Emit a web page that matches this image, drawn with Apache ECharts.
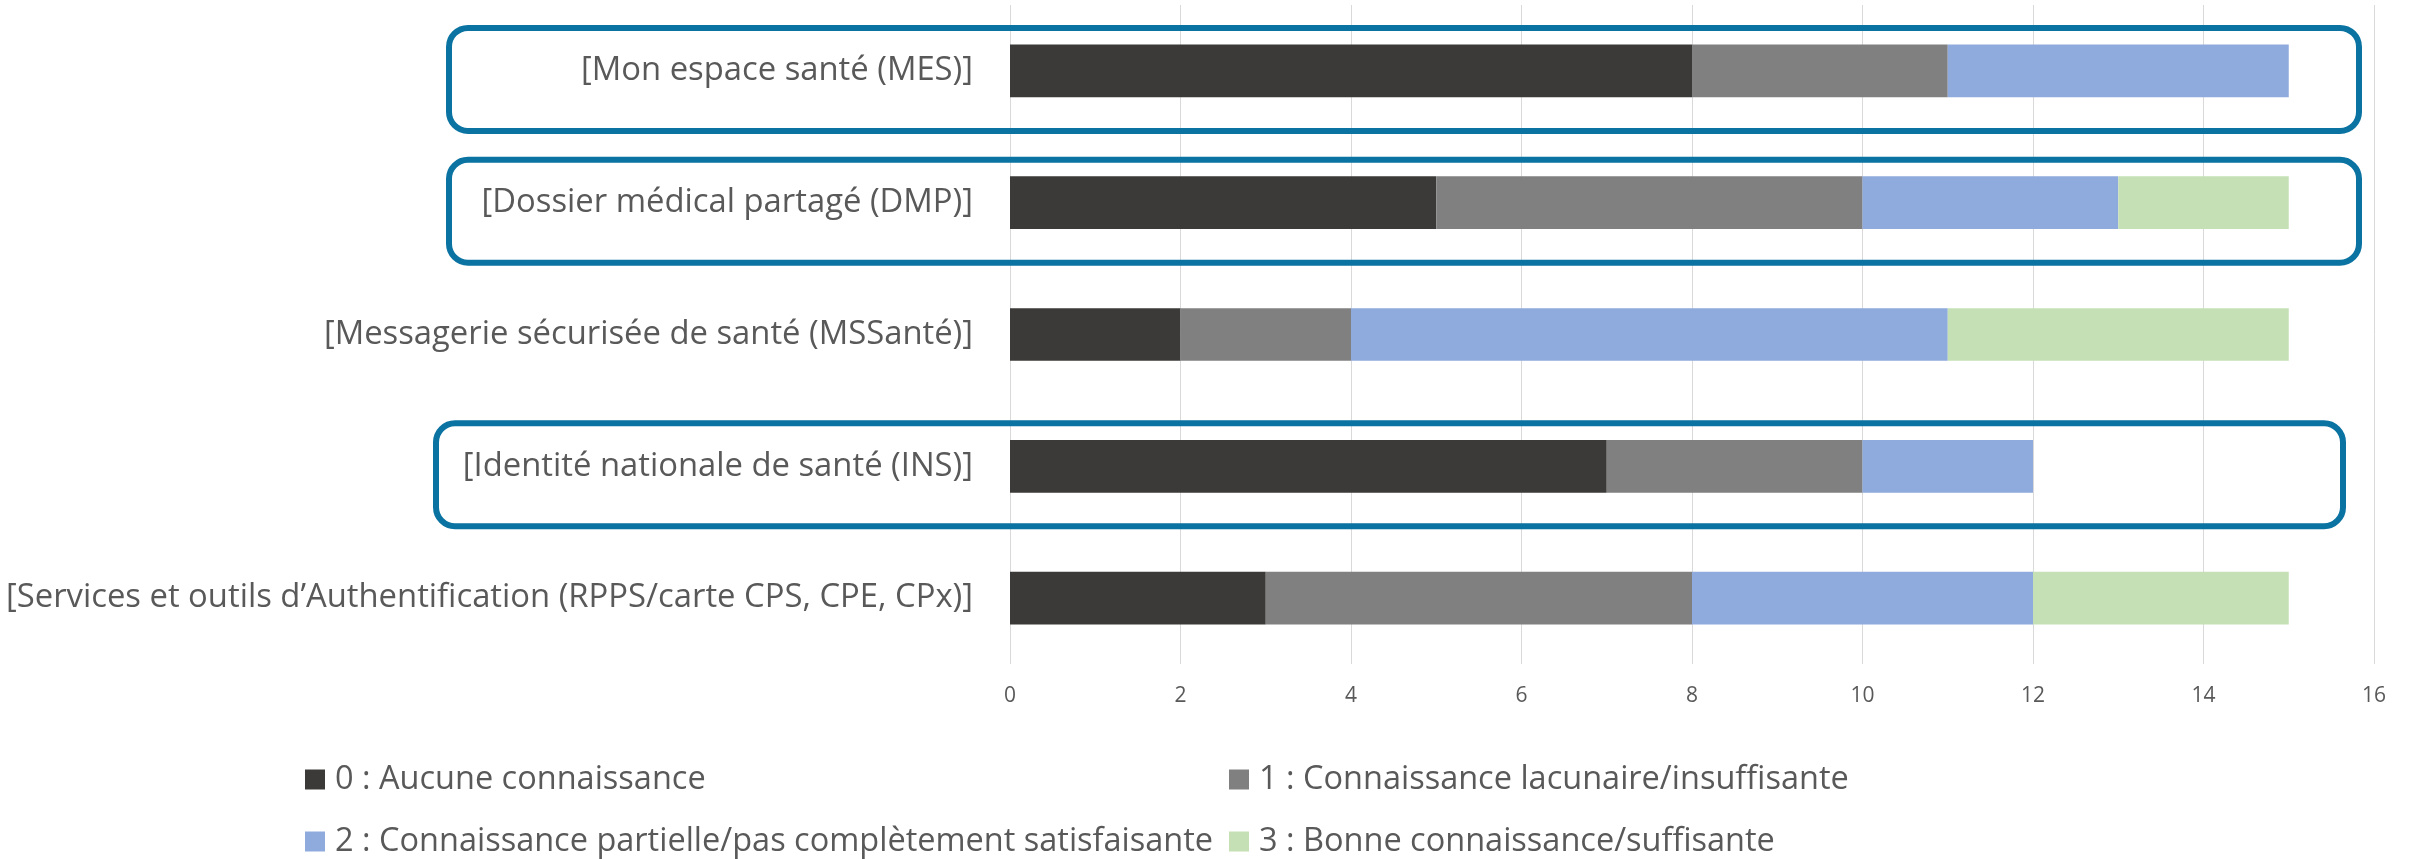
<!DOCTYPE html>
<html>
<head>
<meta charset="utf-8">
<script src="https://cdn.jsdelivr.net/npm/echarts@6/dist/echarts.min.js"></script>
<style>
html,body{margin:0;padding:0;background:#fff;}
#chart{width:2415px;height:859px;}
</style>
</head>
<body>
<div id="chart"></div>
<script>
const categories = [
  "[Mon espace santé (MES)]",
  "[Dossier médical partagé (DMP)]",
  "[Messagerie sécurisée de santé (MSSanté)]",
  "[Identité nationale de santé (INS)]",
  "[Services et outils d’Authentification (RPPS/carte CPS, CPE, CPx)]"
];
const seriesNames = [
  "0 : Aucune connaissance",
  "1 : Connaissance lacunaire/insuffisante",
  "2 : Connaissance partielle/pas complètement satisfaisante",
  "3 : Bonne connaissance/suffisante"
];
const level0 = [8, 5, 2, 7, 3];
const level1 = [3, 5, 2, 3, 5];
const level2 = [4, 3, 7, 2, 4];
const level3 = [0, 2, 4, 0, 3];
const xTicks = [0, 2, 4, 6, 8, 10, 12, 14, 16];
const highlighted = [
  "[Mon espace santé (MES)]",
  "[Dossier médical partagé (DMP)]",
  "[Identité nationale de santé (INS)]"
];

const colors = ["#3b3a39", "#808080", "#8faadc", "#c5e0b4"];
const values = [level0, level1, level2, level3];
const FONT = "Open Sans";
const TXT = "#595959";

const chart = echarts.init(document.getElementById('chart'), null, {renderer: 'canvas'});

const legendPos = [
  {left: 305, top: 763},
  {left: 1229, top: 763},
  {left: 305, top: 825},
  {left: 1229, top: 825}
];

const option = {
  backgroundColor: '#ffffff',
  animation: false,
  textStyle: {fontFamily: FONT},
  grid: {left: 1010, right: 41, top: 5, bottom: 195, containLabel: false},
  xAxis: {
    type: 'value',
    min: xTicks[0],
    max: xTicks[xTicks.length - 1],
    interval: xTicks[1] - xTicks[0],
    axisLine: {show: false},
    axisTick: {show: false},
    splitLine: {show: true, lineStyle: {color: '#d9d9d9', width: 1}},
    axisLabel: {color: TXT, fontSize: 21, fontFamily: FONT, margin: 22}
  },
  yAxis: {
    type: 'category',
    data: categories,
    inverse: true,
    axisLine: {show: false},
    axisTick: {show: false},
    axisLabel: {color: TXT, fontSize: 32.8, fontFamily: FONT, margin: 37}
  },
  legend: legendPos.map((p, i) => ({
    data: [seriesNames[i]],
    left: p.left,
    top: p.top,
    padding: 0,
    itemWidth: 20,
    itemHeight: 20,
    icon: 'rect',
    selectedMode: false,
    textStyle: {color: TXT, fontSize: 32.5, fontFamily: FONT, padding: [0, 0, 0, 5]}
  })),
  series: seriesNames.map((name, i) => ({
    name: name,
    type: 'bar',
    stack: 'total',
    data: values[i],
    barCategoryGap: '60%',
    itemStyle: {color: colors[i]},
    emphasis: {disabled: true}
  }))
};
chart.setOption(option);

// Blue rounded highlight boxes around selected categories
const boxX = {
  "[Mon espace santé (MES)]": [449, 2359],
  "[Dossier médical partagé (DMP)]": [449, 2359],
  "[Identité nationale de santé (INS)]": [436, 2343]
};
const graphics = highlighted.map(cat => {
  const cy = chart.convertToPixel({yAxisIndex: 0}, cat) + 8.5;
  const h = 103;
  const [x0, x1] = boxX[cat];
  return {
    type: 'rect',
    shape: {x: x0, y: cy - h / 2, width: x1 - x0, height: h, r: 19},
    style: {fill: 'none', stroke: '#0a73a2', lineWidth: 6},
    z: 100,
    silent: true
  };
});
chart.setOption({graphic: graphics});
</script>
</body>
</html>
